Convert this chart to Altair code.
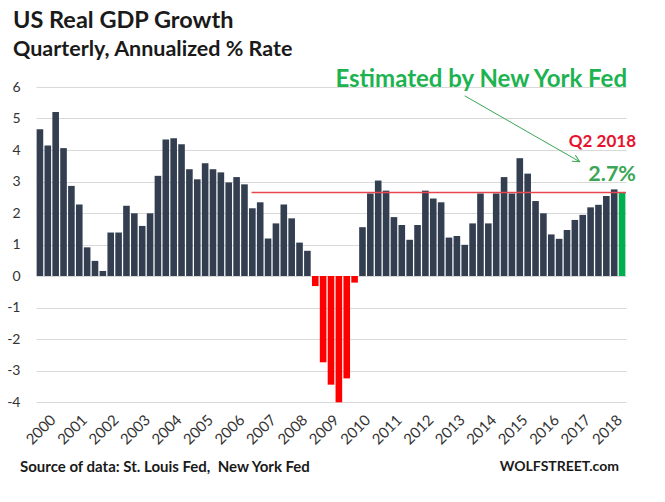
import altair as alt
import pandas as pd

# ---- data ----
# quarters from 1999 Q4 to 2018 Q2
quarters = ["1999Q4"] + [f"{y}Q{q}" for y in range(2000, 2018) for q in range(1, 5)] + ["2018Q1", "2018Q2"]

gdp_growth = [
    4.66,
    4.14, 5.21, 4.06, 2.86,   # 2000
    2.27, 0.91, 0.48, 0.16,   # 2001
    1.38, 1.38, 2.23, 1.99,   # 2002
    1.59, 1.99, 3.18, 4.33,   # 2003
    4.37, 4.18, 3.39, 3.07,   # 2004
    3.58, 3.39, 3.29, 2.97,   # 2005
    3.14, 2.91, 2.15, 2.34,   # 2006
    1.19, 1.67, 2.27, 1.83,   # 2007
    1.06, 0.80, -0.32, -2.74, # 2008
    -3.45, -4.01, -3.25, -0.21, # 2009
    1.55, 2.62, 3.03, 2.71,   # 2010
    1.87, 1.62, 1.15, 1.62,   # 2011
    2.71, 2.46, 2.34, 1.22,   # 2012
    1.27, 0.99, 1.67, 2.62,   # 2013
    1.67, 2.62, 3.14, 2.62,   # 2014
    3.74, 3.25, 2.38, 1.99,   # 2015
    1.32, 1.18, 1.46, 1.78,   # 2016
    1.94, 2.18, 2.26, 2.54,   # 2017
    2.75, 2.65,               # 2018 (Q2 = NY Fed estimate)
]
estimate_quarter = "2018Q2"
estimate_value = 2.65
line_start_quarter = "2006Q3"

year_labels = list(range(2000, 2019))
y_ticks = list(range(-4, 7))

# ---- tables ----
kinds = []
for q, v in zip(quarters, gdp_growth):
    if q == estimate_quarter:
        kinds.append("estimate")
    elif v < 0:
        kinds.append("negative")
    else:
        kinds.append("actual")

df = pd.DataFrame({"quarter": quarters, "gdp": gdp_growth,
                   "idx": list(range(len(quarters))), "kind": kinds})

n = len(quarters)
tick_idx = [quarters.index(f"{y}Q1") for y in year_labels]
first_q1 = tick_idx[0]

FONT = "Lato"
DARK = "#333f50"
GREEN = "#00b050"
RED = "#ff0000"

xscale = alt.Scale(domain=[-0.5, n - 0.5], nice=False, zero=False)
yscale = alt.Scale(domain=[-4, 6], nice=False)

xaxis = alt.Axis(values=tick_idx,
                 labelExpr=f"'' + (2000 + (datum.value - {first_q1}) / 4)",
                 labelAngle=-45, labelFont=FONT, labelFontSize=15,
                 labelColor="#333333", labelPadding=10, ticks=False,
                 labelOverlap=False, labelFlush=False,
                 domain=False, grid=False, title=None)
yaxis = alt.Axis(values=y_ticks, labelExpr="'' + datum.value",
                 labelFont=FONT, labelFontSize=14,
                 labelColor="#333333", labelPadding=16, ticks=False,
                 labelOverlap=False,
                 domain=False, grid=True, gridColor="#d9d9d9", gridWidth=1,
                 title=None)


def X(field):
    return alt.X(field, scale=xscale, axis=xaxis, title=None)


def Y(field):
    return alt.Y(field, scale=yscale, axis=yaxis, title=None)


bars = alt.Chart(df).transform_calculate(
    x0="datum.idx - 0.42", x1="datum.idx + 0.42"
).mark_bar().encode(
    x=X("x0:Q"), x2="x1:Q",
    y=Y("gdp:Q"), y2=alt.datum(0),
    color=alt.Color("kind:N", legend=None,
                    scale=alt.Scale(domain=["actual", "negative", "estimate"],
                                    range=[DARK, RED, GREEN])),
)

line_df = pd.DataFrame({"x0": [quarters.index(line_start_quarter) - 0.1],
                        "x1": [n - 0.5], "y": [estimate_value]})
ref_line = alt.Chart(line_df).mark_rule(color="#e8474f", strokeWidth=1.5).encode(
    x=X("x0:Q"), x2="x1:Q", y=Y("y:Q"))

arrow_df = pd.DataFrame({"x0": [54.0], "y0": [5.72], "x1": [68.6], "y1": [3.63]})
arrow_shaft = alt.Chart(arrow_df).mark_rule(color="#3aa655", strokeWidth=1).encode(
    x=X("x0:Q"), x2="x1:Q", y=Y("y0:Q"), y2="y1:Q")
arrow_head = alt.Chart(arrow_df).mark_point(
    shape="M -0.6 1.2 L 0 0 L 0.6 1.2", filled=False, color="#3aa655",
    strokeWidth=1, size=130, angle=120, opacity=1).encode(
    x=X("x1:Q"), y=Y("y1:Q"))


def label(text, x, y, size, color="#1a1a1a", align="left", weight="bold"):
    return alt.Chart(pd.DataFrame({"t": [text]})).mark_text(
        font=FONT, fontSize=size, fontWeight=weight, color=color,
        align=align, baseline="alphabetic").encode(
        text="t:N", x=alt.value(x), y=alt.value(y))


texts = [
    label("US Real GDP Growth", -23, -59, 23.5),
    label("Quarterly, Annualized % Rate", -23, -31, 21.5),
    label("Estimated by New York Fed", 591, 0, 24, color="#1db350", align="right"),
    label("Q2 2018", 600, 60, 17, color="#e8112d", align="right"),
    label("2.7%", 600, 94, 21.5, color="#3aa655", align="right"),
    label("Source of data: St. Louis Fed,\u00a0\u00a0New York Fed", -16, 385, 15),
    label("WOLFSTREET.com", 583, 384, 14, align="right"),
]

chart = alt.layer(bars, ref_line, arrow_shaft, arrow_head, *texts).properties(
    width=590, height=315,
    autosize=alt.AutoSizeParams(type="none"),
    padding={"left": 36, "top": 87, "right": 39, "bottom": 100},
    background="white",
).configure_view(stroke=None)

chart.save("out.html", embed_options={"renderer": "svg", "actions": False})
